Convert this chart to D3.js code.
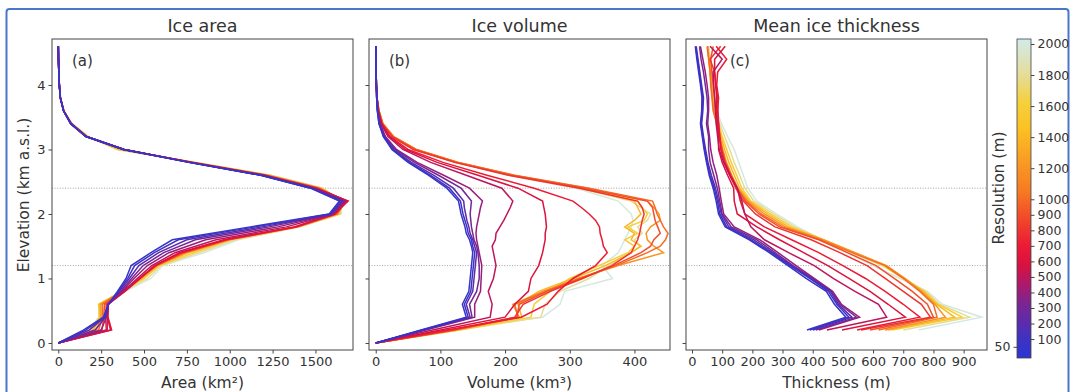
<!DOCTYPE html>
<html>
<head>
<meta charset="utf-8">
<script src="https://cdn.jsdelivr.net/npm/d3@7"></script>
<style>
body { margin: 0; background: #fff; }
text { font-family: "DejaVu Sans", sans-serif; fill: #333; }
</style>
</head>
<body>
<div id="chart"></div>
<script>
// resolutions of the runs (m), one curve per resolution
const resolutions = [50, 100, 200, 300, 400, 500, 600, 700, 800, 900, 1000, 1200, 1400, 1600, 1800, 2000];

// (a) ice area per elevation band
const elevA = [0, 0.2, 0.4, 0.6, 0.8, 1.0, 1.2, 1.4, 1.6, 1.8, 2.0, 2.2, 2.4, 2.6, 2.8, 3.0, 3.2, 3.4, 3.6, 3.8, 4.0, 4.2, 4.4, 4.6];
const areaKm2 = [
  [0, 146, 263, 292, 345, 395, 425, 540, 665, 1120, 1580, 1640, 1470, 1180, 760, 380, 160, 72, 30, 12, 6, 3, 1, 0],
  [0, 160, 268, 292, 350, 405, 445, 560, 700, 1150, 1585, 1645, 1475, 1182, 762, 382, 160, 72, 30, 12, 6, 3, 1, 0],
  [0, 180, 272, 292, 355, 415, 470, 585, 750, 1190, 1590, 1655, 1480, 1185, 765, 382, 162, 73, 30, 12, 6, 3, 1, 0],
  [0, 215, 276, 292, 362, 428, 495, 615, 800, 1230, 1595, 1662, 1485, 1188, 768, 385, 162, 73, 31, 12, 6, 3, 1, 0],
  [0, 250, 280, 292, 370, 442, 520, 645, 860, 1280, 1600, 1670, 1490, 1190, 770, 385, 163, 74, 31, 12, 6, 3, 1, 0],
  [0, 285, 285, 292, 380, 460, 545, 680, 920, 1330, 1605, 1680, 1495, 1195, 772, 385, 163, 74, 31, 12, 6, 3, 1, 0],
  [0, 311, 290, 292, 389, 477, 560, 705, 965, 1375, 1610, 1690, 1500, 1198, 775, 385, 164, 74, 31, 12, 6, 3, 1, 0],
  [0, 305, 285, 288, 385, 475, 565, 715, 975, 1385, 1612, 1688, 1505, 1200, 778, 383, 164, 74, 31, 12, 6, 3, 1, 0],
  [0, 280, 275, 280, 380, 470, 568, 720, 980, 1390, 1615, 1685, 1510, 1205, 780, 380, 164, 74, 31, 12, 6, 3, 1, 0],
  [0, 255, 265, 270, 378, 472, 570, 728, 985, 1392, 1620, 1680, 1515, 1210, 782, 378, 165, 75, 31, 12, 6, 3, 1, 0],
  [0, 235, 258, 258, 375, 475, 572, 735, 990, 1395, 1625, 1675, 1520, 1215, 785, 375, 166, 75, 32, 12, 6, 3, 1, 0],
  [0, 220, 250, 248, 372, 480, 575, 745, 995, 1395, 1630, 1670, 1525, 1220, 788, 370, 168, 76, 32, 12, 6, 3, 1, 0],
  [0, 205, 245, 240, 370, 490, 580, 760, 1000, 1400, 1635, 1665, 1530, 1225, 790, 360, 170, 77, 32, 13, 6, 3, 1, 0],
  [0, 195, 240, 235, 372, 500, 590, 790, 1010, 1400, 1640, 1660, 1535, 1230, 795, 350, 172, 78, 33, 13, 6, 3, 1, 0],
  [0, 185, 238, 240, 380, 520, 600, 820, 1030, 1405, 1645, 1655, 1540, 1235, 800, 345, 175, 80, 33, 13, 6, 3, 1, 0],
  [0, 180, 235, 250, 390, 540, 610, 850, 1050, 1410, 1650, 1650, 1545, 1240, 805, 340, 178, 82, 34, 13, 6, 3, 1, 0]
];

// (b) ice volume per elevation band
const elevB = [0, 0.2, 0.4, 0.6, 0.8, 1.0, 1.2, 1.4, 1.5, 1.6, 1.7, 1.8, 1.9, 2.0, 2.1, 2.2, 2.4, 2.6, 2.8, 3.0, 3.2, 3.4, 3.6, 3.8, 4.0, 4.3, 4.6];
const volumeKm3 = [
  [0, 70, 140, 134, 144, 146, 148, 150, 148, 145, 140, 138, 135, 132, 130, 128, 110, 82, 50, 25, 12, 5, 2.5, 1.5, 1, 0.5, 0],
  [0, 72, 143, 137, 147, 149, 151, 153, 150, 148, 143, 141, 138, 135, 133, 131, 114, 85, 52, 26, 12, 5, 2.5, 1.5, 1, 0.5, 0],
  [0, 73, 146, 140, 150, 152, 154, 156, 153, 150, 146, 144, 141, 139, 137, 136, 120, 90, 55, 28, 13, 6, 3, 1.5, 1, 0.5, 0],
  [0, 75, 149, 145, 156, 160, 160, 158, 156, 152, 150, 148, 147, 146, 147, 148, 132, 97, 60, 30, 14, 6, 3, 1.5, 1, 0.5, 0],
  [0, 77, 153, 153, 162, 163, 164, 160, 158, 156, 155, 156, 158, 160, 162, 165, 145, 105, 64, 32, 15, 7, 3, 1.5, 1, 0.5, 0],
  [0, 88, 177, 180, 174, 182, 186, 182, 180, 185, 186, 192, 198, 203, 208, 212, 195, 140, 85, 42, 19, 8, 3.5, 2, 1, 0.5, 0],
  [0, 100, 200, 215, 236, 240, 252, 258, 260, 262, 262, 264, 263, 262, 260, 258, 220, 158, 95, 46, 21, 9, 4, 2, 1, 0.5, 0],
  [0, 110, 225, 265, 282, 305, 340, 358, 352, 350, 347, 346, 340, 330, 318, 305, 245, 172, 104, 50, 22, 9, 4, 2, 1, 0.5, 0],
  [0, 118, 215, 228, 270, 320, 365, 395, 400, 405, 408, 410, 412, 415, 412, 405, 315, 205, 122, 58, 25, 10, 4.5, 2, 1, 0.5, 0],
  [0, 120, 218, 222, 265, 318, 368, 410, 425, 430, 440, 436, 432, 430, 428, 420, 322, 210, 124, 60, 26, 10, 4.5, 2, 1, 0.5, 0],
  [0, 122, 220, 215, 262, 315, 372, 420, 440, 448, 452, 445, 440, 435, 432, 428, 330, 214, 127, 62, 27, 11, 5, 2, 1, 0.5, 0],
  [0, 124, 222, 212, 258, 312, 375, 445, 430, 420, 418, 425, 440, 438, 430, 420, 328, 214, 128, 63, 28, 11, 5, 2, 1, 0.5, 0],
  [0, 126, 226, 220, 252, 305, 355, 395, 410, 395, 400, 385, 400, 410, 405, 400, 320, 212, 127, 62, 27, 11, 5, 2, 1, 0.5, 0],
  [0, 128, 240, 245, 270, 300, 345, 390, 400, 385, 405, 390, 415, 420, 412, 405, 318, 210, 126, 62, 27, 11, 5, 2, 1, 0.5, 0],
  [0, 130, 255, 262, 285, 330, 360, 395, 410, 400, 412, 405, 420, 425, 410, 395, 315, 208, 125, 61, 27, 11, 5, 2, 1, 0.5, 0],
  [0, 108, 258, 285, 292, 366, 350, 375, 380, 385, 390, 395, 398, 395, 385, 375, 310, 205, 123, 60, 26, 11, 5, 2, 1, 0.5, 0]
];

// (c) mean ice thickness per elevation band
const elevC = [0.2, 0.4, 0.6, 0.8, 1.0, 1.2, 1.4, 1.6, 1.8, 2.0, 2.2, 2.4, 2.6, 2.8, 3.0, 3.2, 3.4, 3.6, 3.8, 4.0, 4.2, 4.4, 4.6];
const thicknessM = [
  [381, 510, 472, 445, 378, 318, 256, 190, 110, 88, 80, 70, 57, 48, 40, 34, 28, 32, 33, 28, 22, 16, 11],
  [390, 520, 480, 452, 390, 325, 262, 196, 115, 92, 84, 74, 60, 50, 42, 36, 30, 34, 35, 30, 24, 18, 12],
  [400, 530, 485, 458, 395, 330, 268, 205, 122, 97, 88, 78, 64, 53, 45, 38, 32, 36, 38, 32, 26, 20, 14],
  [410, 545, 490, 462, 400, 335, 275, 215, 130, 100, 92, 84, 72, 60, 55, 55, 48, 52, 50, 44, 38, 30, 25],
  [420, 555, 495, 466, 405, 345, 285, 225, 140, 105, 97, 90, 82, 70, 62, 58, 52, 55, 55, 50, 44, 36, 28],
  [447, 645, 618, 540, 468, 405, 320, 240, 195, 175, 165, 150, 125, 105, 90, 85, 80, 78, 75, 72, 70, 100, 60],
  [497, 707, 650, 590, 520, 450, 370, 290, 215, 150, 140, 138, 118, 100, 88, 88, 85, 80, 82, 78, 75, 75, 110],
  [547, 755, 700, 640, 575, 500, 420, 330, 240, 175, 160, 150, 128, 108, 95, 92, 88, 85, 88, 82, 85, 115, 80],
  [560, 790, 760, 700, 640, 580, 490, 395, 275, 210, 170, 145, 125, 108, 98, 92, 88, 86, 85, 80, 75, 60, 95],
  [590, 800, 780, 730, 670, 610, 515, 420, 290, 222, 176, 148, 128, 110, 99, 90, 84, 78, 75, 70, 66, 62, 70],
  [618, 812, 800, 755, 700, 640, 530, 425, 300, 230, 180, 150, 130, 112, 100, 90, 82, 70, 66, 62, 60, 55, 50],
  [640, 840, 805, 760, 705, 645, 540, 435, 310, 240, 185, 152, 132, 114, 102, 92, 82, 72, 68, 64, 60, 56, 52],
  [650, 870, 810, 765, 705, 640, 540, 435, 320, 250, 190, 158, 140, 122, 108, 96, 85, 73, 68, 64, 60, 56, 52],
  [663, 895, 815, 770, 700, 635, 535, 435, 330, 260, 195, 165, 148, 130, 115, 100, 88, 75, 70, 65, 61, 57, 53],
  [700, 920, 820, 775, 700, 630, 530, 435, 340, 270, 205, 175, 158, 140, 125, 108, 92, 78, 72, 67, 62, 58, 54],
  [751, 960, 830, 780, 690, 600, 515, 430, 350, 280, 215, 185, 170, 155, 140, 118, 98, 82, 75, 70, 64, 60, 56]
];

const refElev = [1.2, 2.4];
const cbTicksRight = [100, 200, 300, 400, 500, 600, 700, 800, 900, 1000, 1200, 1400, 1600, 1800, 2000];
const cbTicksLeft = [50];
const cmapStops = [-22, 80, 200, 330, 460, 580, 700, 850, 1050, 1250, 1450, 1620, 1800, 2032];
const cmapColors = ["#2c35d2", "#3a33c6", "#5a2cae", "#7c2590", "#b0186a", "#d8123f", "#ec1a36", "#f0412c", "#f67a22", "#f99c24", "#fcc023", "#f5d03a", "#e6dc98", "#d2ebea"];

var w = 1074, h = 392;
var svg = d3.select("#chart").append("svg")
            .attr("width", w)
            .attr("height", h);

// blue frame round the figure
svg.append("rect")
   .attr("x", 6.5).attr("y", 9)
   .attr("width", 1062).attr("height", 420)
   .attr("rx", 3)
   .attr("fill", "none")
   .attr("stroke", "#4a77c9")
   .attr("stroke-width", 2);

var color = d3.scaleLinear().domain(cmapStops).range(cmapColors).interpolate(d3.interpolateRgb);

var plotTop = 39, plotBot = 350;
var y = d3.scaleLinear().domain([-0.109, 4.713]).range([plotBot, plotTop]);
var fmt = d3.format("d");

var panels = [
  {x0: 52, x1: 353, dom: [-36.8, 1719], ticks: [0, 250, 500, 750, 1000, 1250, 1500],
   elev: elevA, vals: areaKm2, title: "Ice area", xlab: "Area (km²)", tag: "(a)", tagX: 72},
  {x0: 369, x1: 670, dom: [-10.4, 455], ticks: [0, 100, 200, 300, 400],
   elev: elevB, vals: volumeKm3, title: "Ice volume", xlab: "Volume (km³)", tag: "(b)", tagX: 389},
  {x0: 686, x1: 987, dom: [-19.9, 977.5], ticks: [0, 100, 200, 300, 400, 500, 600, 700, 800, 900],
   elev: elevC, vals: thicknessM, title: "Mean ice thickness", xlab: "Thickness (m)", tag: "(c)", tagX: 730}
];

// draw from coarse to fine so the fine runs sit on top
var order = d3.range(resolutions.length).reverse();

panels.forEach(function(p, pi) {
  var x = d3.scaleLinear().domain(p.dom).range([p.x0, p.x1]);
  var g = svg.append("g");

  g.append("clipPath").attr("id", "clip" + pi)
   .append("rect").attr("x", p.x0).attr("y", plotTop)
   .attr("width", p.x1 - p.x0).attr("height", plotBot - plotTop);

  var plot = g.append("g").attr("clip-path", "url(#clip" + pi + ")");

  plot.selectAll(".ref")
      .data(refElev)
      .enter().append("line")
      .attr("x1", p.x0).attr("x2", p.x1)
      .attr("y1", d => y(d)).attr("y2", d => y(d))
      .attr("stroke", "#9a9a9a")
      .attr("stroke-width", 0.9)
      .attr("stroke-dasharray", "1,1.6");

  var line = d3.line()
               .x(d => x(d[0]))
               .y(d => y(d[1]));

  plot.selectAll(".run")
      .data(order)
      .enter().append("path")
      .attr("d", i => line(p.vals[i].map((v, k) => [v, p.elev[k]])))
      .attr("fill", "none")
      .attr("stroke", i => color(resolutions[i]))
      .attr("stroke-width", 1.5)
      .attr("stroke-linejoin", "miter");

  // axes
  var xAxis = d3.axisBottom(x).tickValues(p.ticks).tickFormat(fmt).tickSize(3.5).tickPadding(3);
  var gx = g.append("g").attr("transform", "translate(0," + plotBot + ")").call(xAxis);
  gx.select(".domain").remove();
  gx.selectAll("text").style("font-size", "13px").attr("fill", "#333");
  gx.selectAll("line").attr("stroke", "#444");

  var yAxis = d3.axisLeft(y).tickValues([0, 1, 2, 3, 4]).tickSize(3.5).tickPadding(3);
  yAxis.tickFormat(pi > 0 ? "" : fmt);
  var gy = g.append("g").attr("transform", "translate(" + p.x0 + ",0)").call(yAxis);
  gy.select(".domain").remove();
  gy.selectAll("text").style("font-size", "13px").attr("fill", "#333");
  gy.selectAll("line").attr("stroke", "#444");

  g.append("rect")
   .attr("x", p.x0).attr("y", plotTop)
   .attr("width", p.x1 - p.x0).attr("height", plotBot - plotTop)
   .attr("fill", "none")
   .attr("stroke", "#444")
   .attr("stroke-width", 1);

  g.append("text")
   .attr("x", (p.x0 + p.x1) / 2).attr("y", 32)
   .attr("text-anchor", "middle")
   .style("font-size", "17.5px")
   .text(p.title);

  g.append("text")
   .attr("x", (p.x0 + p.x1) / 2).attr("y", 388)
   .attr("text-anchor", "middle")
   .style("font-size", "15.5px")
   .text(p.xlab);

  g.append("text")
   .attr("x", p.tagX).attr("y", 66)
   .style("font-size", "15px")
   .text(p.tag);
});

svg.append("text")
   .attr("transform", "translate(29,195) rotate(-90)")
   .attr("text-anchor", "middle")
   .style("font-size", "15.5px")
   .text("Elevation (km a.s.l.)");

// colorbar
var cbX = 1017, cbW = 14, cbTop = 39, cbBot = 358;
var cb = d3.scaleLinear().domain([-22, 2032]).range([cbBot, cbTop]);

var grad = svg.append("defs").append("linearGradient")
              .attr("id", "cbgrad")
              .attr("x1", "0%").attr("y1", "100%")
              .attr("x2", "0%").attr("y2", "0%");
grad.selectAll("stop")
    .data(cmapStops)
    .enter().append("stop")
    .attr("offset", d => ((cb(d) - cbBot) / (cbTop - cbBot) * 100) + "%")
    .attr("stop-color", d => color(d));

svg.append("rect")
   .attr("x", cbX).attr("y", cbTop)
   .attr("width", cbW).attr("height", cbBot - cbTop)
   .attr("fill", "url(#cbgrad)")
   .attr("stroke", "#444")
   .attr("stroke-width", 0.8);

var cbR = svg.append("g").attr("transform", "translate(" + (cbX + cbW) + ",0)")
             .call(d3.axisRight(cb).tickValues(cbTicksRight).tickFormat(fmt).tickSize(3.5).tickPadding(3));
cbR.select(".domain").remove();
cbR.selectAll("text").style("font-size", "12.5px").attr("fill", "#333");
cbR.selectAll("line").attr("stroke", "#444");

var cbL = svg.append("g").attr("transform", "translate(" + cbX + ",0)")
             .call(d3.axisLeft(cb).tickValues(cbTicksLeft).tickFormat(fmt).tickSize(3.5).tickPadding(3));
cbL.select(".domain").remove();
cbL.selectAll("text").style("font-size", "12.5px").attr("fill", "#333");
cbL.selectAll("line").attr("stroke", "#444");

svg.append("text")
   .attr("transform", "translate(1004,188) rotate(-90)")
   .attr("text-anchor", "middle")
   .style("font-size", "15.5px")
   .text("Resolution (m)");
</script>
</body>
</html>
